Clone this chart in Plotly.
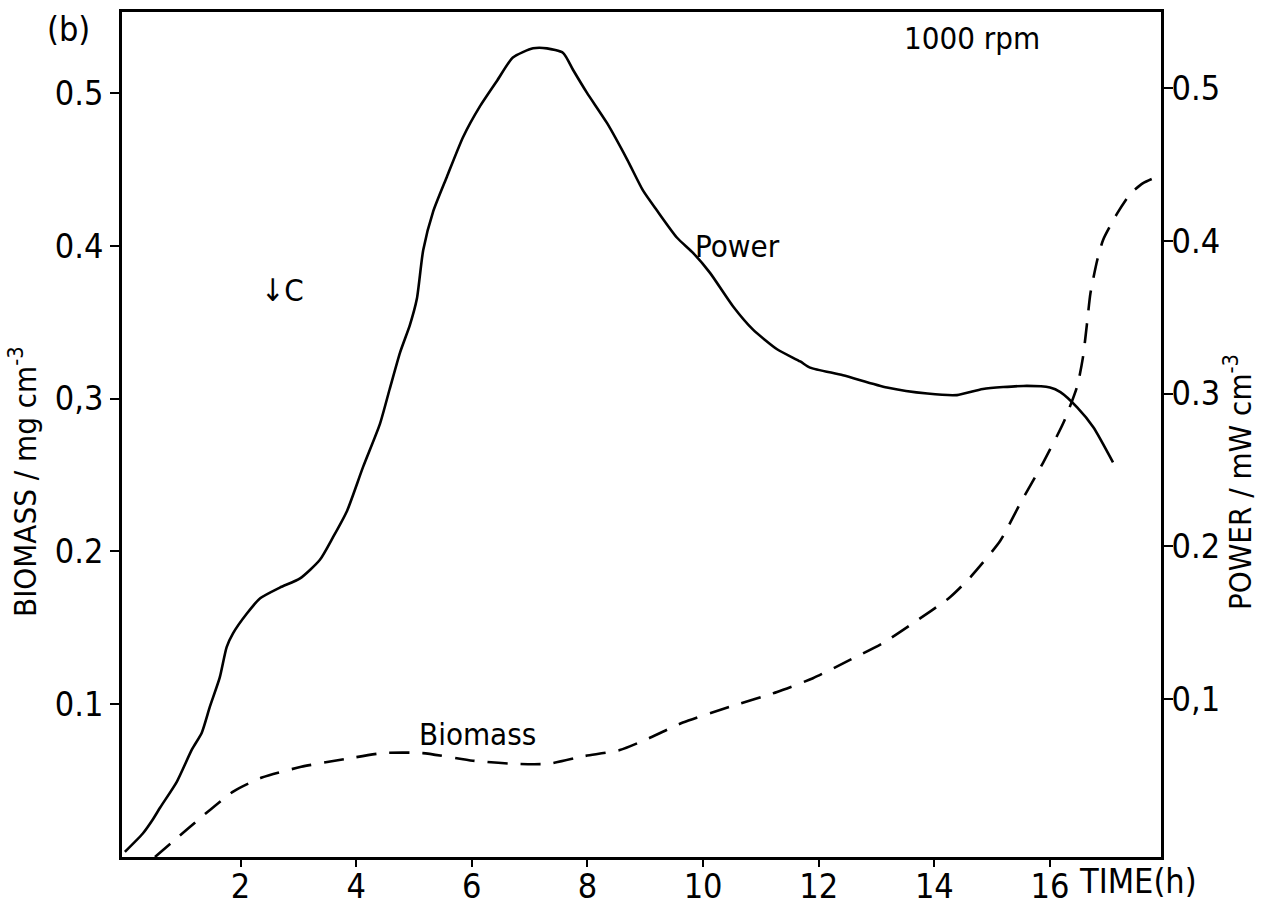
import plotly.graph_objects as go

# Power trace (right axis, mW cm^-3) against time (h)
power_t = [0.0, 0.31, 0.48, 0.61, 0.90, 1.16, 1.33, 1.47, 1.64, 1.76, 1.87, 2.11, 2.34,
           2.68, 3.03, 3.37, 3.60, 3.84, 4.12, 4.41, 4.58, 4.76, 4.93, 5.05, 5.16, 5.33,
           5.57, 5.85, 6.14, 6.44, 6.71, 7.06, 7.30, 7.58, 7.75, 7.99, 8.34, 8.69, 8.96,
           9.20, 9.55, 9.83, 10.12, 10.52, 10.86, 11.28, 11.68, 11.85, 12.42, 13.18,
           13.88, 14.39, 14.84, 15.54, 16.00, 16.18, 16.47, 16.75, 17.09]
power_v = [0.0, 0.012, 0.021, 0.029, 0.046, 0.067, 0.078, 0.095, 0.114, 0.134, 0.143,
           0.156, 0.166, 0.173, 0.179, 0.191, 0.206, 0.223, 0.252, 0.280, 0.303, 0.327,
           0.345, 0.362, 0.394, 0.419, 0.442, 0.468, 0.488, 0.505, 0.520, 0.526, 0.526,
           0.523, 0.512, 0.497, 0.477, 0.453, 0.433, 0.420, 0.402, 0.392, 0.379, 0.357,
           0.342, 0.329, 0.321, 0.317, 0.312, 0.304, 0.300, 0.299, 0.303, 0.305, 0.304,
           0.301, 0.291, 0.278, 0.255]

# Biomass trace (left axis, mg cm^-3) against time (h)
biomass_t = [0.52, 0.89, 1.32, 1.88, 2.37, 3.05, 3.79, 4.47, 5.15, 6.02, 6.70, 7.32,
             7.94, 8.56, 9.08, 9.65, 10.52, 11.28, 11.90, 12.54, 13.11, 13.63, 14.27,
             14.62, 15.14, 15.48, 15.88, 16.23, 16.47, 16.57, 16.64, 16.70, 16.82, 16.92,
             17.16, 17.39, 17.61, 17.90]
biomass_v = [0.0, 0.012, 0.026, 0.043, 0.052, 0.059, 0.064, 0.068, 0.068, 0.063, 0.061,
             0.061, 0.066, 0.070, 0.078, 0.088, 0.099, 0.108, 0.117, 0.129, 0.140, 0.153,
             0.170, 0.183, 0.207, 0.231, 0.258, 0.284, 0.308, 0.327, 0.349, 0.369, 0.391,
             0.404, 0.421, 0.434, 0.441, 0.446]

x_ticks = [2, 4, 6, 8, 10, 12, 14, 16]
x_labels = ["2", "4", "6", "8", "10", "12", "14", "16"]
left_ticks = [0.1, 0.2, 0.3, 0.4, 0.5]
left_labels = ["0.1", "0.2", "0,3", "0.4", "0.5"]
right_ticks = [0.1, 0.2, 0.3, 0.4, 0.5]
right_labels = ["0,1", "0.2", "0.3", "0.4", "0.5"]

FONT = "DejaVu Sans Condensed, Liberation Sans Narrow, DejaVu Sans, sans-serif"

W, H = 1269, 906
L, R, T, B = 122, 1161, 12, 857   # plot-area edges in pixels

fig = go.Figure()
fig.add_trace(go.Scatter(x=biomass_t, y=biomass_v, mode="lines", yaxis="y",
                         line=dict(color="black", width=2.6, dash="20px,13px",
                                   shape="spline", smoothing=0.6),
                         showlegend=False, hoverinfo="skip"))
fig.add_trace(go.Scatter(x=power_t, y=power_v, mode="lines", yaxis="y2",
                         line=dict(color="black", width=2.6, shape="spline", smoothing=0.6),
                         showlegend=False, hoverinfo="skip"))

axis_common = dict(showgrid=False, zeroline=False, showline=True, linecolor="black",
                   linewidth=2.5, ticks="outside", tickwidth=2, tickcolor="black",
                   automargin=False,
                   tickfont=dict(family=FONT, size=34, color="black"))

fig.update_layout(
    width=W, height=H,
    margin=dict(l=L, r=W - R, t=T, b=H - B, autoexpand=False),
    paper_bgcolor="white", plot_bgcolor="white",
    xaxis=dict(range=[-0.05, 17.92], tickvals=x_ticks, ticktext=x_labels, mirror=True,
               ticklen=7, ticklabelstandoff=-10, **axis_common),
    yaxis=dict(range=[0.0, 0.553], tickvals=left_ticks, ticktext=left_labels,
               ticklen=9, **axis_common),
    yaxis2=dict(range=[-0.0034, 0.5498], tickvals=right_ticks, ticktext=right_labels,
                overlaying="y", side="right", ticklen=9, ticklabelstandoff=-8,
                **axis_common),
)


def px(x, y):
    """Pixel position -> paper fraction of the plot area."""
    return (x - L) / (R - L), (B - y) / (B - T)


annotations = [
    ("(b)", 68, 29, 0, 34),
    ("1000 rpm", 972, 38, 0, 31),
    ("Power", 737, 246, 0, 31),
    ("Biomass", 477, 734, 0, 31),
    ("↓C", 282, 290, 0, 31),
    ("TIME(h)", 1138, 881, 0, 34),
    ("BIOMASS / mg cm<sup>-3</sup>", 23, 482, -90, 31),
    ("POWER / mW cm<sup>-3</sup>", 1238, 482, -90, 31),
]
for text, ax, ay, ang, size in annotations:
    fx, fy = px(ax, ay)
    fig.add_annotation(text=text, x=fx, y=fy, xref="paper", yref="paper",
                       showarrow=False, textangle=ang, xanchor="center", yanchor="middle",
                       font=dict(family=FONT, size=size, color="black"))

fig.write_html("out.html")
